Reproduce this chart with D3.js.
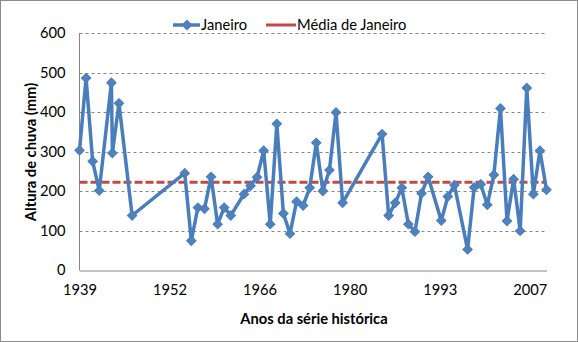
<!DOCTYPE html>
<html>
<head>
<meta charset="utf-8">
<script src="https://cdn.jsdelivr.net/npm/d3@7"></script>
<style>
  html, body { margin: 0; padding: 0; background: #fff; }
  svg { display: block; font-family: Lato, "Open Sans", sans-serif; }
</style>
</head>
<body>
<svg id="chart" width="578" height="342"></svg>
<script>
// ---- data ----
const years = [1939,1940,1941,1942,1943.85,1944,1945,1947,
  1955,1956,1957,1958,1959,1960,1961,1962,
  1964,1965,1966,1967,1968,1969,1970,1971,1972,1973,1974,1975,1976,1977,1978,1979,
  1985,1986,1987,1988,1989,1990,1991,1992,
  1994,1995,1996,
  1998,1999,2000,2001,2002,2003,2004,2005,2006,2007,2008,2009,2010];
const janeiro = [303,486,275,201,474,296,422,138,
  245,74,158,155,236,116,158,138,
  192,213,235,302,116,370,143,92,173,163,208,322,200,253,399,170,
  344,138,170,208,116,97,194,236,
  125,186,215,
  52,209,217,165,241,409,124,230,99,461,192,302,203];
const mediaJaneiro = 222;
const xTickValues = [1939, 1952.69, 1966.38, 1980.07, 1993.76, 2007.45];
const xTickLabels = ["1939","1952","1966","1980","1993","2007"];
const yTicks = [0,100,200,300,400,500,600];
const seriesNames = ["Janeiro", "Média de Janeiro"];
const xTitle = "Anos da série histórica";
const yTitle = "Altura de chuva (mm)";

// ---- drawing ----
const svg = d3.select("#chart");
const blue = "#4A7EBB", blueMarker = "#4F81BD", red = "#BE4B48";
const FS = 14.7;

svg.append("rect").attr("x",0.5).attr("y",0.5).attr("width",577).attr("height",341)
  .attr("fill","#fff").attr("stroke","#8c8c8c");

const x = d3.scaleLinear().domain([1939, 2010]).range([79.5, 546.5]);
const y = d3.scaleLinear().domain([0, 600]).range([270, 33]);

// gridlines
svg.append("g").selectAll("line").data(yTicks.filter(d => d > 0)).join("line")
  .attr("x1", x.range()[0]).attr("x2", x.range()[1])
  .attr("y1", d => Math.round(y(d)) + 0.5).attr("y2", d => Math.round(y(d)) + 0.5)
  .attr("stroke", "#868686").attr("stroke-width", 1).attr("stroke-dasharray", "3,3");

// y axis labels
const yAxis = svg.append("g").attr("transform", "translate(79.5,0)")
  .call(d3.axisLeft(y).tickValues(yTicks).tickSize(0).tickPadding(14).tickFormat(d3.format("d")));
yAxis.select(".domain").remove();
yAxis.selectAll("text").attr("font-size", FS).attr("fill", "#000").attr("font-family", "Lato, sans-serif");

// axis lines
svg.append("line").attr("x1",79.5).attr("x2",79.5).attr("y1",y(600)).attr("y2",270.5)
  .attr("stroke","#868686");
const xAxis = svg.append("g").attr("transform", "translate(0,270.5)")
  .call(d3.axisBottom(x).tickValues(xTickValues).tickSize(0).tickPadding(14)
    .tickFormat((d, i) => xTickLabels[i]));
xAxis.select(".domain").attr("stroke", "#868686");
xAxis.selectAll("text").attr("font-size", FS).attr("fill", "#000").attr("font-family", "Lato, sans-serif");

// mean line
svg.append("line")
  .attr("x1", x(1939)).attr("x2", x(2010))
  .attr("y1", y(mediaJaneiro)).attr("y2", y(mediaJaneiro))
  .attr("stroke", red).attr("stroke-width", 3).attr("stroke-dasharray", "8,3");

// series line
const pts = years.map((yr, i) => ({x: yr, v: janeiro[i]}));
svg.append("path").datum(pts)
  .attr("fill", "none").attr("stroke", blue).attr("stroke-width", 3.5)
  .attr("stroke-linejoin", "round")
  .attr("d", d3.line().x(d => x(d.x)).y(d => y(d.v)));

const diamond = d3.symbol().type(d3.symbolSquare).size(44);
svg.append("g").selectAll("path").data(pts).join("path")
  .attr("transform", d => `translate(${x(d.x)},${y(d.v)}) rotate(45)`)
  .attr("d", diamond).attr("fill", blueMarker).attr("stroke", blue).attr("stroke-width", 1);

// axis titles
svg.append("text").attr("x", 314).attr("y", 324).attr("text-anchor", "middle")
  .attr("font-size", FS).attr("font-weight", "bold").text(xTitle);
svg.append("text").attr("transform", "translate(36,152) rotate(-90)")
  .attr("text-anchor", "middle").attr("font-size", FS).attr("font-weight", "bold").text(yTitle);

// legend
const lg = svg.append("g");
lg.append("line").attr("x1", 173).attr("x2", 200).attr("y1", 25).attr("y2", 25)
  .attr("stroke", blue).attr("stroke-width", 3.5);
lg.append("path").attr("transform", "translate(187,25) rotate(45)").attr("d", diamond)
  .attr("fill", blueMarker).attr("stroke", blue);
lg.append("text").attr("x", 201).attr("y", 30).attr("font-size", FS).text(seriesNames[0]);
lg.append("line").attr("x1", 266).attr("x2", 296).attr("y1", 25).attr("y2", 25)
  .attr("stroke", red).attr("stroke-width", 3);
lg.append("text").attr("x", 297).attr("y", 30).attr("font-size", FS).text(seriesNames[1]);
</script>
</body>
</html>
